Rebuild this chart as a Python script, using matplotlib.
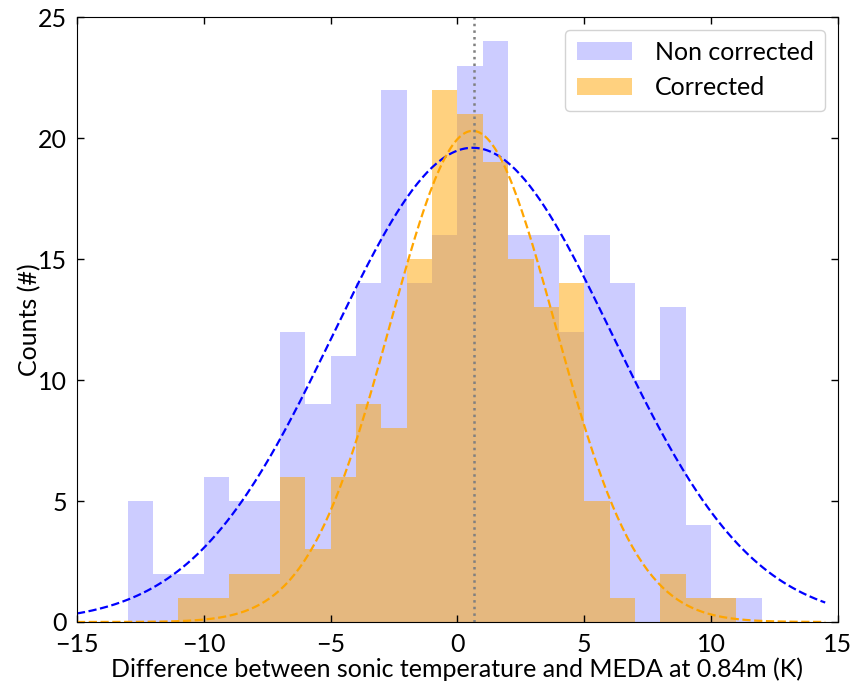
"""histogram of sonic temperature minus MEDA, before and after correction"""

import numpy as np
import matplotlib
matplotlib.use("Agg")
import matplotlib.pyplot as plt

plt.rcParams["font.family"] = ["Lato", "DejaVu Sans"]

# bin edges (K), one bin per kelvin
bin_edges = np.arange(-13, 13, 1)

non_corrected_counts = [5, 2, 2, 6, 5, 5, 12, 9, 11, 14, 22, 14, 16,
                        23, 24, 16, 16, 12, 16, 14, 10, 13, 4, 1, 1]
corrected_counts = [0, 0, 1, 1, 2, 2, 6, 3, 6, 9, 8, 15, 22,
                    21, 19, 15, 13, 14, 5, 1, 0, 2, 1, 1, 0]

# normal fits: (mean, std, peak count)
non_corrected_fit = (0.6, 5.5, 19.6)
corrected_fit = (0.6, 3.25, 20.3)

median_line = 0.65


def gauss(x, fit):
    """scaled normal curve"""
    mu, sigma, peak = fit
    return peak * np.exp(-(x - mu) ** 2 / (2 * sigma ** 2))


def plot_hist():
    fig, ax = plt.subplots(figsize=(8.55, 6.85), dpi=100)
    fig.subplots_adjust(left=0.09, right=0.98, top=0.975, bottom=0.092)

    centers = bin_edges[:-1] + 0.5
    ax.hist(centers, bins=bin_edges, weights=non_corrected_counts,
            color="blue", alpha=0.2, label="Non corrected")
    ax.hist(centers, bins=bin_edges, weights=corrected_counts,
            color="orange", alpha=0.5, label="Corrected")

    x = np.linspace(-15, 14.5, 300)
    ax.plot(x, gauss(x, non_corrected_fit), "--", color="blue", lw=1.6)
    ax.plot(x, gauss(x, corrected_fit), "--", color="orange", lw=1.6)

    ax.axvline(median_line, color="grey", ls=":", lw=1.8)

    ax.set_xlim(-15, 15)
    ax.set_ylim(0, 25)
    ax.set_xticks(range(-15, 16, 5))
    ax.set_yticks(range(0, 26, 5))
    ax.tick_params(direction="in", top=True, right=True, labelsize=18,
                   length=5, width=1)
    ax.tick_params(axis="x", pad=8)
    ax.tick_params(axis="y", pad=7)

    ax.set_xlabel("Difference between sonic temperature and MEDA at 0.84m (K)",
                  fontsize=18, labelpad=1)
    ax.set_ylabel("Counts (#)", fontsize=18, labelpad=-2)

    ax.legend(loc="upper right", fontsize=18, handlelength=2.2,
              handletextpad=0.95, borderpad=0.45, framealpha=1,
              edgecolor="lightgrey")

    fig.savefig("out.png", dpi=100)


plot_hist()
